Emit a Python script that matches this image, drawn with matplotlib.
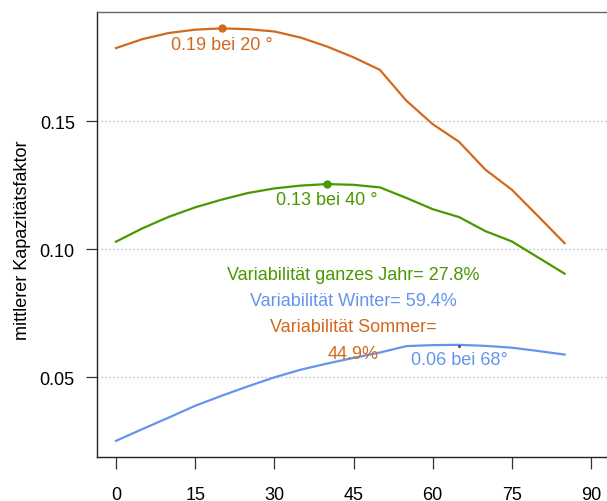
import matplotlib
matplotlib.use("Agg")
import matplotlib.pyplot as plt
import numpy as np

plt.rcParams['font.family'] = ['Liberation Sans', 'DejaVu Sans']

# Neigungswinkel und mittlere Kapazitätsfaktoren
angle = [0, 5, 10, 15, 20, 25, 30, 35, 40, 45, 50, 55, 60, 65, 70, 75, 80, 85]
sommer = [0.1785, 0.1820, 0.1844, 0.1857, 0.1862, 0.1859, 0.1850, 0.1826, 0.1791,
          0.1749, 0.1700, 0.1580, 0.1488, 0.1419, 0.1310, 0.1232, 0.1128, 0.1023]
jahr = [0.1029, 0.1081, 0.1126, 0.1163, 0.1193, 0.1219, 0.1237, 0.1248, 0.1254,
        0.1251, 0.1241, 0.1200, 0.1156, 0.1125, 0.1070, 0.1030, 0.0967, 0.0904]
winter = [0.0251, 0.0297, 0.0342, 0.0388, 0.0427, 0.0464, 0.0499, 0.0529, 0.0553,
          0.0575, 0.0596, 0.0621, 0.0625, 0.0626, 0.0622, 0.0615, 0.0602, 0.0588]

xticks = [0, 15, 30, 45, 60, 75, 90]
yticks = [0.05, 0.10, 0.15]

c_sommer = '#D2691E'
c_jahr = '#4A9800'
c_winter = '#6495ED'
fs = 13

fig = plt.figure(figsize=(6.07, 5.02), dpi=100)
ax = fig.add_axes([97 / 607, 44 / 502, 513 / 607, 445 / 502])

for yt in yticks:
    ax.axhline(yt, color='#aaaaaa', lw=0.9, ls=(0, (1, 2.2)), zorder=0)

ax.plot(angle, sommer, color=c_sommer, lw=1.6)
ax.plot(angle, jahr, color=c_jahr, lw=1.6)
ax.plot(angle, winter, color=c_winter, lw=1.6)

# Maxima markieren
i = int(np.argmax(sommer))
ax.plot(angle[i], sommer[i], 'o', color=c_sommer, ms=5)
ax.text(angle[i], sommer[i] - 0.0061, '0.19 bei 20 °', color=c_sommer,
        fontsize=fs, ha='center', va='center')
i = int(np.argmax(jahr))
ax.plot(angle[i], jahr[i], 'o', color=c_jahr, ms=5)
ax.text(angle[i], jahr[i] - 0.0059, '0.13 bei 40 °', color=c_jahr,
        fontsize=fs, ha='center', va='center')
i = int(np.argmax(winter))
ax.plot(angle[i], winter[i] - 0.0005, 'o', color='#555555', ms=1.2)
ax.text(angle[i], winter[i] - 0.0056, '0.06 bei 68°', color=c_winter,
        fontsize=fs, ha='center', va='center')

ax.text(45, 0.0902, 'Variabilität ganzes Jahr= 27.8%', color=c_jahr,
        fontsize=fs, ha='center', va='center')
ax.text(45, 0.0798, 'Variabilität Winter= 59.4%', color=c_winter,
        fontsize=fs, ha='center', va='center')
ax.text(45, 0.0699, 'Variabilität Sommer=', color=c_sommer,
        fontsize=fs, ha='center', va='center')
ax.text(45, 0.0594, '44.9%', color=c_sommer,
        fontsize=fs, ha='center', va='center')

ax.set_xlim(-3.6, 93.6)
ax.set_ylim(0.0188, 0.1926)
ax.set_xticks(xticks)
ax.set_xticklabels([str(t) for t in xticks])
ax.set_yticks(yticks)
ax.set_yticklabels(['0.05', '0.10', '0.15'])
ax.tick_params(axis='x', length=8.5, width=0.9, pad=12.5, labelsize=fs, color='#333333')
ax.tick_params(axis='y', length=8, width=0.9, pad=8, labelsize=fs, color='#333333')

ax.spines['right'].set_visible(False)
ax.spines['top'].set_color('#666666')
ax.spines['left'].set_color('#222222')
ax.spines['bottom'].set_color('#222222')
for s in ['top', 'left', 'bottom']:
    ax.spines[s].set_linewidth(1.0)

fig.text(23 / 607, 1 - 240 / 502, 'mittlerer Kapazitätsfaktor', rotation=90,
         ha='center', va='center', fontsize=fs)

fig.savefig('out.png', dpi=100)
